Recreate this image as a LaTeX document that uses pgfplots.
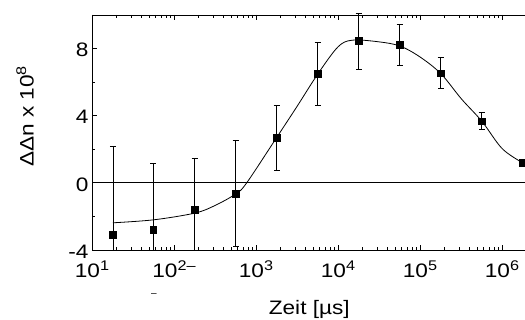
\documentclass[border=0pt]{standalone}
\usepackage{pgfplots}
\pgfplotsset{compat=1.18}
\usepackage{fontspec}
\setmainfont{Liberation Sans}
\newcommand\sups[1]{\raisebox{7.5pt}{\fontsize{14}{14}\selectfont #1}}
\newcommand\tl[1]{\scalebox{1.16}[1]{#1}}
\begin{document}
\begin{tikzpicture}
\begin{axis}[
  name=ax,
  scale only axis,
  width=434.6pt, height=235pt,
  xmode=log,
  xmin=10, xmax=1995262,
  ymin=-4, ymax=10,
  clip=false,
  axis line style={line width=0.8pt},
  tick style={line width=0.8pt, black},
  tick align=inside,
  major tick length=5pt,
  minor tick length=3pt,
  ytick pos=left,
  xtick={10,100,1000,10000,100000,1000000},
  xticklabels={\tl{10\sups{1}},\tl{10\sups{2–}},\tl{10\sups{3}},\tl{10\sups{4}},\tl{10\sups{5}},\tl{10\sups{6}}},
  ytick={-4,0,4,8},
  yticklabels={\tl{-4},\tl{0},\tl{4},\tl{8}},
  minor ytick={-2,2,6},
  tick label style={font=\fontsize{19.5}{20}\selectfont},
  label style={font=\fontsize{19.5}{20}\selectfont},
  xticklabel style={anchor=base, yshift=-28pt},
  yticklabel style={anchor=east, yshift=-1.5pt},
  xlabel={\tl{Zeit [µs]}},
  ylabel={\tl{ΔΔn x 10\sups{8}}},
  xlabel style={at={(axis description cs:0.5,0)}, anchor=base, yshift=-65pt},
  ylabel style={at={(axis description cs:-0.154,0.568)}, anchor=center, rotate=0},
]
% zero line
\addplot[black, line width=0.8pt] coordinates {(10,0) (1995262,0)};
% error bars (upward, with caps)
\addplot[black, line width=0.8pt, draw=none, mark=none,
  error bars/.cd, y dir=plus, y explicit,
  error bar style={line width=0.8pt},
  error mark options={rotate=90, mark size=3pt, line width=0.8pt}]
  table[x=x, y=y, y error plus=ep] {
x y ep
18 -3.1 5.28
56 -2.8 3.95
178 -1.6 3.03
563 -0.65 3.2
1780 2.7 1.92
5630 6.5 1.84
17800 8.46 1.64
56300 8.22 1.23
178000 6.53 0.92
563000 3.68 0.5
1780000 1.19 0.22
};
% downward with caps
\addplot[black, line width=0.8pt, draw=none, mark=none,
  error bars/.cd, y dir=minus, y explicit,
  error bar style={line width=0.8pt},
  error mark options={rotate=90, mark size=3pt, line width=0.8pt}]
  table[x=x, y=y, y error minus=em] {
x y em
563 -0.65 3.15
1780 2.7 1.96
5630 6.5 1.9
17800 8.46 1.73
56300 8.22 1.24
178000 6.53 0.93
563000 3.68 0.52
1780000 1.19 0.22
};
% downward, truncated at axis, no caps
\addplot[black, line width=0.8pt, draw=none, mark=none,
  error bars/.cd, y dir=minus, y explicit,
  error bar style={line width=0.8pt},
  error mark=none]
  table[x=x, y=y, y error minus=em] {
x y em
18 -3.1 0.9
56 -2.8 1.2
178 -1.6 2.4
};
% fit curve
\addplot[black, line width=0.8pt, smooth, tension=0.55, mark=none] coordinates {
(18,-2.38) (57,-2.2) (180,-1.8) (316,-1.35)
(570,-0.65) (770,0) (1786,2.7) (3162,4.55)
(5700,6.5) (10000,8.1) (15000,8.5) (31620,8.4)
(57000,8.15) (100000,7.5) (180000,6.5) (320000,5.0) (570000,3.66)
(1000000,2.05) (1778000,1.19) (1995262,1.05)
};
% markers
\addplot[black, only marks, mark=square*, mark size=3.3pt] table[x=x,y=y] {
x y
18 -3.1
56 -2.8
178 -1.6
563 -0.65
1780 2.7
5630 6.5
17800 8.46
56300 8.22
178000 6.53
563000 3.68
1780000 1.19
};
\node at (axis cs:57,-6.67) {\fontsize{10}{10}\selectfont –};
\end{axis}
\pgfresetboundingbox
\path[use as bounding box] ([xshift=-92pt,yshift=-70pt]ax.south west) rectangle ([xshift=433pt,yshift=15pt]ax.north west);
\end{tikzpicture}
\end{document}
